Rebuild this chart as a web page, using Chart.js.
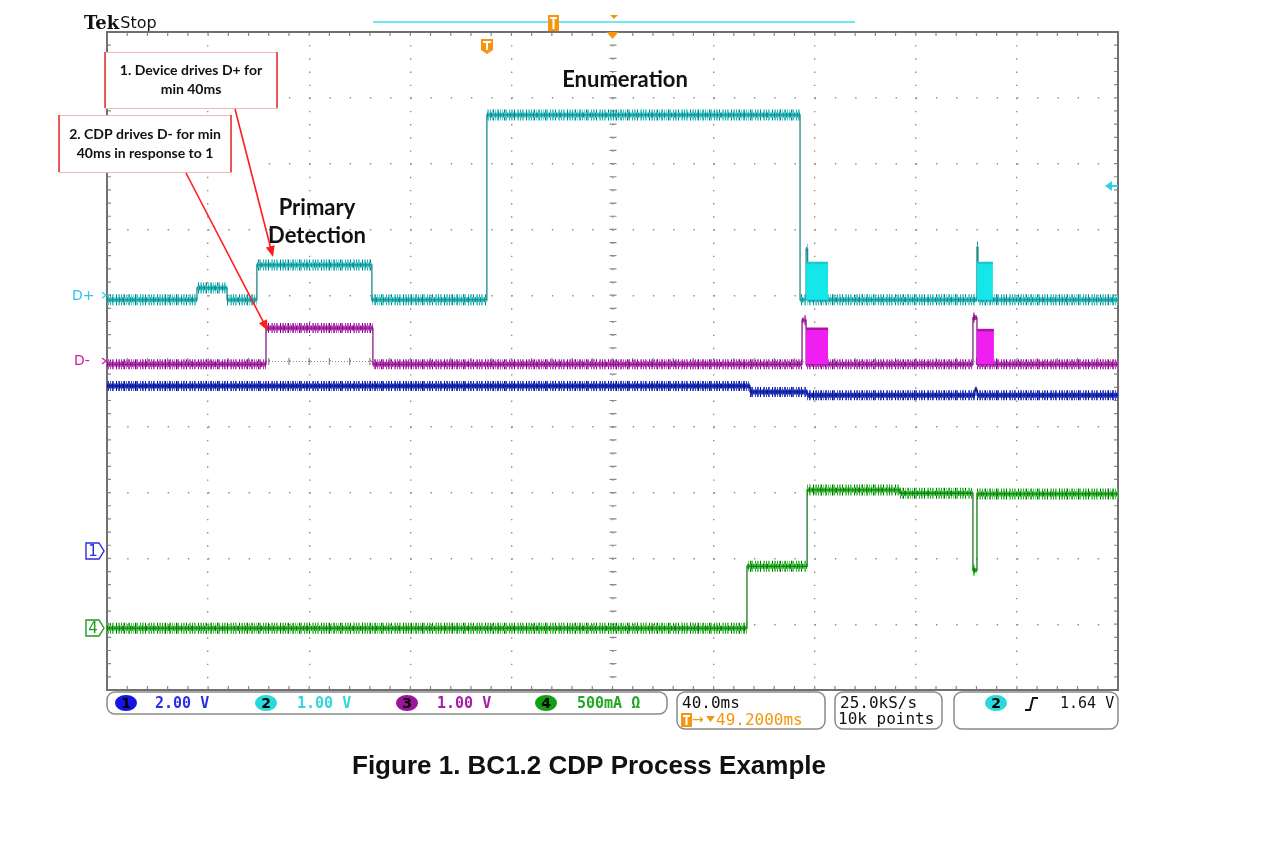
<!DOCTYPE html>
<html><head><meta charset="utf-8">
<script src="https://cdn.jsdelivr.net/npm/chart.js@4.4.1/dist/chart.umd.min.js"></script>
<style>html,body{margin:0;padding:0;background:#fff;}canvas{display:block}</style>
</head><body>
<canvas id="c" width="1280" height="843"></canvas>
<script>
// ---- axes: time in ms across the screen (40 ms/div x 10 div), vertical in screen divisions (10 div)
const timeTicks = [0, 40, 80, 120, 160, 200, 240, 280, 320, 360, 400];
const divTicks = [0, 1, 2, 3, 4, 5, 6, 7, 8, 9, 10];

// ---- D+ (channel 2): level changes (time ms) and level (div) from that time on
const dPlusTimes  = [0, 35.6, 47.5, 59.3, 104.8, 150.3, 274.2, 276.6, 277.2, 344.2, 344.6, 400];
const dPlusLevels = [5.93, 6.11, 5.93, 6.46, 5.93, 8.74, 5.93, 6.70, 5.93, 6.73, 5.93, 5.93];
const dPlusBurstStart = [276.6, 344.2];
const dPlusBurstEnd   = [285.3, 350.5];
const dPlusBurstTop   = [6.49, 6.49];
const dPlusBase = 5.93;

// ---- D- (channel 3)
const dMinusTimes  = [0, 62.9, 105.2, 275.0, 276.6, 342.6, 344.2, 400];
const dMinusLevels = [4.95, 5.50, 4.95, 5.62, 4.95, 5.66, 4.95, 4.95];
const dMinusBurstStart = [276.6, 344.2];
const dMinusBurstEnd   = [285.3, 350.9];
const dMinusBurstTop   = [5.49, 5.47];
const dMinusBase = 4.95;

// ---- Channel 1 (blue)
const ch1Times  = [0, 254.4, 277.0, 343.4, 344.2, 400];
const ch1Levels = [4.62, 4.53, 4.48, 4.57, 4.48, 4.48];

// ---- Channel 4 (green, current)
const ch4Times  = [0, 253.2, 277.0, 313.7, 342.6, 344.2, 400];
const ch4Levels = [0.94, 1.88, 3.04, 2.99, 1.82, 2.98, 2.98];

// ---- texts
const statusChannels = [
  {n:'1', text:'2.00 V', pill:'#1414e6', col:'#2b2be8'},
  {n:'2', text:'1.00 V', pill:'#2ad8dc', col:'#33d6dc'},
  {n:'3', text:'1.00 V', pill:'#9c149c', col:'#a51fa5'},
  {n:'4', text:'500mA \u03A9', pill:'#12a012', col:'#23a823'}
];
const captionText = 'Figure 1. BC1.2 CDP Process Example';

function stepPoints(times, levels){
  const pts=[{x:times[0],y:levels[0]}];
  for(let i=1;i<times.length;i++){
    pts.push({x:times[i],y:levels[i-1]});
    pts.push({x:times[i],y:levels[i]});
  }
  return pts;
}
// texture for the noisy trace band: irregular vertical hairlines
function noisePattern(base, dark){
  const c=document.createElement('canvas'); c.width=41; c.height=16;
  const g=c.getContext('2d');
  const cols=[0,1,3,5,6,8,10,12,13,14,17,19,20,22,25,26,28,30,31,34,36,37,39];
  cols.forEach((x,i)=>{ g.fillStyle=(i%3===1)?dark:base; g.globalAlpha=(i%2)?1:0.75; g.fillRect(x,0,1,16); });
  return g.createPattern(c,'repeat');
}
function narrowPattern(base, dark){
  const c=document.createElement('canvas'); c.width=23; c.height=16;
  const g=c.getContext('2d');
  g.fillStyle=base; g.fillRect(0,0,23,16);
  g.fillStyle=dark;
  [1,4,7,8,12,15,17,20].forEach((x,i)=>{ g.globalAlpha=(i%2)?0.9:0.6; g.fillRect(x,0,1,16); });
  return g.createPattern(c,'repeat');
}
const ctx0=document.getElementById('c').getContext('2d');
const vert = c => c.p0.parsed.x===c.p1.parsed.x;

function traceSets(times, levels, base, dark, core, width, ord){
  const pts=stepPoints(times, levels);
  const pat=noisePattern(base,dark), pat2=narrowPattern(base,dark);
  return [
    {data:pts, borderColor:pat, borderWidth:width, pointRadius:0, borderCapStyle:'butt', order:ord+0.6,
     segment:{borderColor:c=>vert(c)?'rgba(0,0,0,0)':pat}},
    {data:pts, borderColor:pat2, borderWidth:5, pointRadius:0, borderCapStyle:'butt', order:ord+0.3,
     segment:{borderColor:c=>vert(c)?'rgba(0,0,0,0)':pat2}},
    {data:pts, borderColor:core, borderWidth:1.3, pointRadius:0, order:ord}
  ];
}
function burstSets(starts, ends, tops, base, fillCol, edge, ord){
  return starts.map((s,i)=>({data:[{x:s,y:tops[i]},{x:ends[i],y:tops[i]}], fill:{value:base},
    backgroundColor:fillCol, borderColor:edge, borderWidth:2.5, pointRadius:0, order:ord}));
}

const datasets = [
  ...burstSets(dPlusBurstStart,dPlusBurstEnd,dPlusBurstTop,dPlusBase,'#14e6ea','#1ec8c8',1),
  ...burstSets(dMinusBurstStart,dMinusBurstEnd,dMinusBurstTop,dMinusBase,'#f01ef0','#b0149e',1),
  ...traceSets(dPlusTimes,dPlusLevels,'#36cfd0','#167a7e','#1f8a8c',11,2),
  ...traceSets(dMinusTimes,dMinusLevels,'#c640c6','#6e106e','#8a1a8a',10,3),
  ...traceSets(ch1Times,ch1Levels,'#2b3fd8','#081272','#101c90',10,4),
  ...traceSets(ch4Times,ch4Levels,'#3fcf3f','#126612','#1a7a1a',11,5)
];

function rr(ctx,x,y,w,h,r){ctx.beginPath();ctx.moveTo(x+r,y);ctx.arcTo(x+w,y,x+w,y+h,r);ctx.arcTo(x+w,y+h,x,y+h,r);ctx.arcTo(x,y+h,x,y,r);ctx.arcTo(x,y,x+w,y,r);ctx.closePath();}
function pill(ctx,cx,cy,col,n){
  ctx.fillStyle=col; ctx.beginPath(); ctx.ellipse(cx,cy,11,8,0,0,Math.PI*2); ctx.fill();
  ctx.fillStyle='#000'; ctx.font='bold 14px "DejaVu Sans"'; ctx.textAlign='center'; ctx.textBaseline='middle';
  ctx.fillText(n,cx,cy+1);
}
function arrow(ctx,x1,y1,x2,y2){
  ctx.strokeStyle='#ff1c1c'; ctx.fillStyle='#ff1c1c'; ctx.lineWidth=1.6;
  const a=Math.atan2(y2-y1,x2-x1);
  ctx.beginPath(); ctx.moveTo(x1,y1); ctx.lineTo(x2-8*Math.cos(a),y2-8*Math.sin(a)); ctx.stroke();
  ctx.beginPath(); ctx.moveTo(x2,y2);
  ctx.lineTo(x2-11*Math.cos(a)+4.5*Math.sin(a), y2-11*Math.sin(a)-4.5*Math.cos(a));
  ctx.lineTo(x2-11*Math.cos(a)-4.5*Math.sin(a), y2-11*Math.sin(a)+4.5*Math.cos(a));
  ctx.closePath(); ctx.fill();
}
function noteBox(ctx,x,y,w,h,lines){
  ctx.fillStyle='#fff'; ctx.fillRect(x,y,w,h);
  ctx.strokeStyle='#f6b4b4'; ctx.lineWidth=1; ctx.strokeRect(x+0.5,y+0.5,w,h);
  ctx.strokeStyle='#e83a3a'; ctx.lineWidth=1.6;
  ctx.beginPath(); ctx.moveTo(x,y); ctx.lineTo(x,y+h); ctx.moveTo(x+w,y); ctx.lineTo(x+w,y+h); ctx.stroke();
  ctx.fillStyle='#111'; ctx.font='bold 14px Lato'; ctx.textAlign='center'; ctx.textBaseline='middle';
  lines.forEach((l,i)=>ctx.fillText(l,x+w/2,y+h/2+(i-(lines.length-1)/2)*19));
}
function tShield(ctx,cx,top){
  ctx.fillStyle='#f5960f';
  ctx.beginPath(); ctx.moveTo(cx-6,top); ctx.lineTo(cx+6,top); ctx.lineTo(cx+6,top+11); ctx.lineTo(cx,top+15); ctx.lineTo(cx-6,top+11); ctx.closePath(); ctx.fill();
  ctx.fillStyle='#fff'; ctx.fillRect(cx-4,top+2,8,2); ctx.fillRect(cx-1,top+2,2,9);
}

const graticule = {
  id:'graticule',
  beforeDatasetsDraw(chart){
    const ctx=chart.ctx, xs=chart.scales.x, ys=chart.scales.y;
    const {left,right,top,bottom}=chart.chartArea;
    ctx.save();
    const cx=xs.getPixelForValue(200), cy=ys.getPixelForValue(5);
    ctx.strokeStyle='#8a8a8a'; ctx.lineWidth=1;
    ctx.setLineDash([1,2]);
    ctx.beginPath(); ctx.moveTo(left,cy+0.5); ctx.lineTo(right,cy+0.5); ctx.stroke();
    ctx.setLineDash([]);
    ctx.strokeStyle='#8a8a8a'; ctx.lineWidth=1.2;
    ctx.beginPath();
    for(let k=0;k<=50;k++){ const x=xs.getPixelForValue(k*8);
      ctx.moveTo(x,cy-3); ctx.lineTo(x,cy+4);
      ctx.moveTo(x,top); ctx.lineTo(x,top+4);
      ctx.moveTo(x,bottom); ctx.lineTo(x,bottom-4); }
    for(let k=0;k<=50;k++){ const y=ys.getPixelForValue(k*0.2);
      ctx.moveTo(cx-3,y); ctx.lineTo(cx+4,y);
      ctx.moveTo(left,y); ctx.lineTo(left+4,y);
      ctx.moveTo(right,y); ctx.lineTo(right-4,y); }
    ctx.stroke();
    ctx.strokeStyle='#707070'; ctx.lineWidth=2;
    ctx.strokeRect(left,top,right-left,bottom-top);
    ctx.restore();
  },
  afterDraw(chart){
    const ctx=chart.ctx, xs=chart.scales.x, ys=chart.scales.y;
    const {left,right,top,bottom}=chart.chartArea;
    ctx.save();
    // header
    ctx.fillStyle='#111'; ctx.textBaseline='alphabetic'; ctx.textAlign='left';
    ctx.font='bold 18px "DejaVu Serif"'; ctx.fillText('Tek',84,29);
    const tw=ctx.measureText('Tek').width;
    ctx.font='16px "DejaVu Sans"'; ctx.fillText('Stop',84+tw+1,28);
    ctx.strokeStyle='#3fe0e6'; ctx.lineWidth=1.5;
    ctx.beginPath(); ctx.moveTo(373,22); ctx.lineTo(855,22); ctx.stroke();
    ctx.fillStyle='#f5960f'; ctx.fillRect(548,15,11,16);
    ctx.fillStyle='#fff'; ctx.fillRect(550,17,7,2); ctx.fillRect(552.5,17,2,12);
    ctx.fillStyle='#f5960f';
    ctx.beginPath(); ctx.moveTo(610,15); ctx.lineTo(618,15); ctx.lineTo(614,19); ctx.closePath(); ctx.fill();
    const tx=xs.getPixelForValue(200);
    ctx.beginPath(); ctx.moveTo(tx-6,top); ctx.lineTo(tx+6,top); ctx.lineTo(tx,top+7); ctx.closePath(); ctx.fill();
    tShield(ctx,487,39);
    // channel labels on the left
    ctx.font='14px "DejaVu Sans"'; ctx.textBaseline='middle'; ctx.textAlign='left';
    const yDp=ys.getPixelForValue(6), yDm=ys.getPixelForValue(5);
    ctx.fillStyle='#33c4ec'; ctx.fillText('D+',72,yDp+1);
    ctx.strokeStyle='#33c4ec'; ctx.lineWidth=1.2;
    ctx.beginPath(); ctx.moveTo(102,yDp-3); ctx.lineTo(106,yDp); ctx.lineTo(102,yDp+3); ctx.stroke();
    ctx.fillStyle='#d0189c'; ctx.fillText('D-',74,yDm);
    ctx.strokeStyle='#d0189c';
    ctx.beginPath(); ctx.moveTo(102,yDm-3); ctx.lineTo(106,yDm); ctx.lineTo(102,yDm+3); ctx.stroke();
    // channel 1 and 4 markers
    const mk=(y,col,n)=>{ ctx.strokeStyle=col; ctx.lineWidth=1.4;
      ctx.beginPath(); ctx.moveTo(86,y-8); ctx.lineTo(99,y-8); ctx.lineTo(104,y); ctx.lineTo(99,y+8); ctx.lineTo(86,y+8); ctx.closePath(); ctx.stroke();
      ctx.fillStyle=col; ctx.font='15px "DejaVu Sans"'; ctx.textAlign='center'; ctx.fillText(n,93,y+1); };
    mk(551,'#2b2be8','1');
    mk(628,'#1f9a1f','4');
    // trigger level arrow on right
    ctx.fillStyle='#27d6e6'; ctx.strokeStyle='#27d6e6'; ctx.lineWidth=2;
    ctx.beginPath(); ctx.moveTo(1105,186); ctx.lineTo(1112,181); ctx.lineTo(1112,191); ctx.closePath(); ctx.fill();
    ctx.beginPath(); ctx.moveTo(1110,186); ctx.lineTo(1118,186); ctx.stroke();
    // annotations
    ctx.fillStyle='#111'; ctx.font='bold 22px Lato'; ctx.textAlign='center'; ctx.textBaseline='middle';
    ctx.fillText('Enumeration',625,80);
    ctx.fillText('Primary',317,208);
    ctx.fillText('Detection',317,236);
    noteBox(ctx,105,52,172,56,['1. Device drives D+ for','min 40ms']);
    noteBox(ctx,59,115,172,57,['2. CDP drives D- for min','40ms in response to 1']);
    arrow(ctx,235,109,273,257);
    arrow(ctx,186,173,268,331);
    // status bar
    ctx.strokeStyle='#8a8a8a'; ctx.lineWidth=1.5;
    rr(ctx,107,692,560,22,8); ctx.stroke();
    rr(ctx,677,692,148,37,8); ctx.stroke();
    rr(ctx,835,692,107,37,8); ctx.stroke();
    rr(ctx,954,692,164,37,8); ctx.stroke();
    const px=[126,266,407,546], txp=[155,297,437,577];
    statusChannels.forEach((c,i)=>{
      pill(ctx,px[i],703,c.pill,c.n);
      ctx.fillStyle=c.col; ctx.font='bold 15px "DejaVu Sans Mono"'; ctx.textAlign='left'; ctx.textBaseline='middle';
      ctx.fillText(c.text,txp[i],704);
    });
    ctx.fillStyle='#111'; ctx.font='16px "DejaVu Sans Mono"'; ctx.textAlign='left'; ctx.textBaseline='middle';
    ctx.fillText('40.0ms',682,704);
    ctx.fillText('25.0kS/s',840,704);
    ctx.fillText('10k points',838,720);
    ctx.font='15px "DejaVu Sans Mono"';
    ctx.fillText('1.64 V',1060,704);
    ctx.fillStyle='#f5960f'; ctx.fillRect(681,713,11,14);
    ctx.fillStyle='#fff'; ctx.fillRect(683,715,7,2); ctx.fillRect(685.5,715,2,10);
    ctx.fillStyle='#f5960f'; ctx.font='14px "DejaVu Sans"'; ctx.fillText('\u2192',692,720);
    ctx.beginPath(); ctx.moveTo(706,716); ctx.lineTo(715,716); ctx.lineTo(710.5,722); ctx.closePath(); ctx.fill();
    ctx.font='16px "DejaVu Sans Mono"'; ctx.fillText('49.2000ms',716,721);
    pill(ctx,996,703,'#2ad8dc','2');
    ctx.strokeStyle='#111'; ctx.lineWidth=2;
    ctx.beginPath(); ctx.moveTo(1025,710); ctx.lineTo(1030,710); ctx.lineTo(1033,698); ctx.lineTo(1038,698); ctx.stroke();
    // caption
    ctx.fillStyle='#111'; ctx.font='bold 26px "Liberation Sans"'; ctx.textAlign='center'; ctx.textBaseline='alphabetic';
    ctx.fillText(captionText,589,774);
    ctx.restore();
  }
};

new Chart(ctx0,{
  type:'line',
  data:{datasets},
  options:{
    responsive:false, animation:false,
    layout:{padding:{left:107,right:162,top:32,bottom:153}},
    plugins:{legend:{display:false},tooltip:{enabled:false}},
    scales:{
      x:{type:'linear',min:timeTicks[0],max:timeTicks[timeTicks.length-1],
         afterBuildTicks:s=>{s.ticks=timeTicks.map(v=>({value:v}));},
         ticks:{display:false}, grid:{color:'#8c8c8c',lineWidth:1.4,drawTicks:false},
         border:{display:false,dash:[1.4,11.76]}},
      y:{type:'linear',min:divTicks[0],max:divTicks[divTicks.length-1],
         afterBuildTicks:s=>{s.ticks=divTicks.map(v=>({value:v}));},
         ticks:{display:false}, grid:{color:'#8c8c8c',lineWidth:1.4,drawTicks:false},
         border:{display:false,dash:[1.4,18.82]}}
    }
  },
  plugins:[graticule]
});
</script>
</body></html>
